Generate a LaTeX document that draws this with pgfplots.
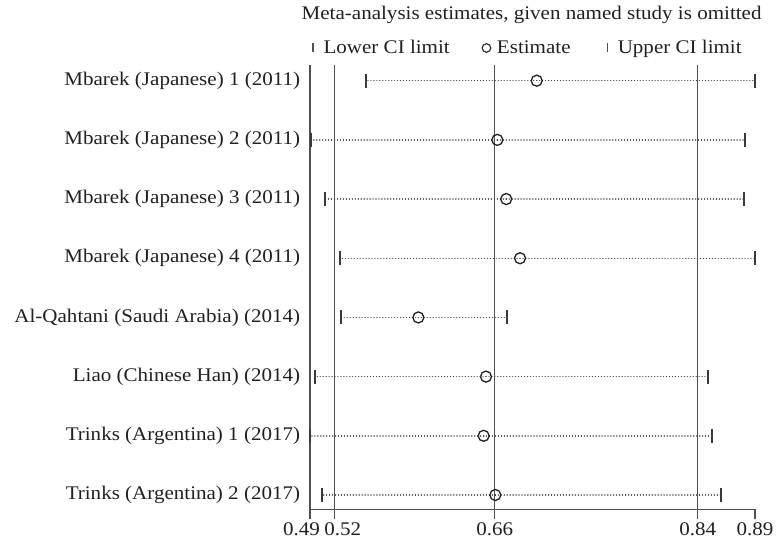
\documentclass[border=0pt]{standalone}
\usepackage{fontspec}
\setmainfont{Liberation Serif}[FakeStretch=1.09]
\usepackage{pgfplots}
\usepackage{pgfplotstable}
\pgfplotsset{compat=1.18}
\definecolor{linegray}{HTML}{505050}
\definecolor{bargray}{HTML}{3A3A3A}
\definecolor{inkblack}{HTML}{231F20}

% leave-one-out estimates: lower CI limit, estimate, upper CI limit
\pgfplotstableread{
row L      E      U
1   0.5481 0.7018 0.8980
2   0.4989 0.6664 0.8893
3   0.5115 0.6744 0.8884
4   0.5247 0.6868 0.8977
5   0.5256 0.5954 0.6751
6   0.5028 0.6562 0.8555
7   0.4980 0.6541 0.8591
8   0.5088 0.6646 0.8674
}\ci

\pgfplotsset{
  ci legend/.style={legend image code/.code={%
    \path (-5pt,0pt) (5pt,0pt);
    \draw[##1] plot coordinates {(0pt,0pt)};}},
}

\begin{document}
\begin{tikzpicture}[font=\fontsize{19.3}{23}\selectfont, text=inkblack]
\path[use as bounding box] (-310pt,-39.7pt) rectangle (471pt,509.3pt);
\begin{axis}[
  at={(0pt,0pt)}, anchor=south west,
  scale only axis, width=445pt, height=444.3pt,
  xmin=0.498, xmax=0.898, ymin=0.735, ymax=8.242,
  y dir=reverse,
  clip=false,
  axis x line*=bottom, axis y line*=left,
  axis line style={linegray, line width=1.5pt},
  xtick={0.5202,0.6640,0.8465},
  xticklabels={\hspace*{16pt}0.52, 0.66, 0.84},
  extra x ticks={0.498,0.898},
  extra x tick labels={0.49\hspace*{17pt}, 0.89},
  extra x tick style={grid=none},
  xmajorgrids,
  grid style={linegray, line width=1.5pt},
  tick align=outside,
  major tick length=9.7pt,
  xtick style={linegray, line width=1.5pt},
  ytick={1,...,8},
  yticklabels={Mbarek (Japanese) 1 (2011), Mbarek (Japanese) 2 (2011),
    Mbarek (Japanese) 3 (2011), Mbarek (Japanese) 4 (2011),
    Al-Qahtani (Saudi Arabia) (2014), Liao (Chinese Han) (2014),
    Trinks (Argentina) 1 (2017), Trinks (Argentina) 2 (2017)},
  ytick style={draw=none},
  yticklabel style={anchor=east, inner sep=0pt},
  /pgf/number format/assume math mode=true,
  title={Meta-analysis estimates, given named study is omitted},
  title style={at={(0.498,1.099)}, anchor=center, inner sep=0pt},
  legend style={at={(-0.0052,1.0383)}, anchor=west, draw=none, fill=none,
    inner sep=0pt, nodes={inner sep=0pt},
    /tikz/every odd column/.append style={column sep=5.3pt},
    /tikz/every even column/.append style={column sep=31.5pt}},
  legend columns=3,
  legend cell align=left,
]
\addlegendimage{ci legend, only marks, mark=|, mark size=4.5pt,
  mark options={linegray, line width=1.2pt}}
\addlegendentry{Lower CI limit}
\addlegendimage{ci legend, only marks, mark=o, mark size=4.3pt,
  mark options={inkblack, line width=1.1pt}}
\addlegendentry{Estimate}
\addlegendimage{ci legend, only marks, mark=|, mark size=4.5pt,
  mark options={linegray, line width=1.2pt}}
\addlegendentry{Upper CI limit}

% lower and upper CI limits
\addplot[forget plot, only marks, mark=|, mark size=7pt,
  mark options={bargray, line width=2pt}]
  table[x=L, y=row] {\ci};
\addplot[forget plot, only marks, mark=|, mark size=7pt,
  mark options={bargray, line width=2pt}]
  table[x=U, y=row] {\ci};

% estimates with dotted CI span
\addplot[forget plot, only marks, mark=o, mark size=5.5pt,
  mark options={inkblack, line width=1.3pt, solid},
  error bars/.cd, x dir=both, x explicit, error mark=none,
  error bar style={black!75, line width=1.4pt, line cap=round,
    dash pattern=on 0.01pt off 2.95pt}]
  table[x=E, y=row,
    x error plus expr=\thisrow{U}-\thisrow{E},
    x error minus expr=\thisrow{E}-\thisrow{L}] {\ci};
\end{axis}
\end{tikzpicture}
\end{document}
